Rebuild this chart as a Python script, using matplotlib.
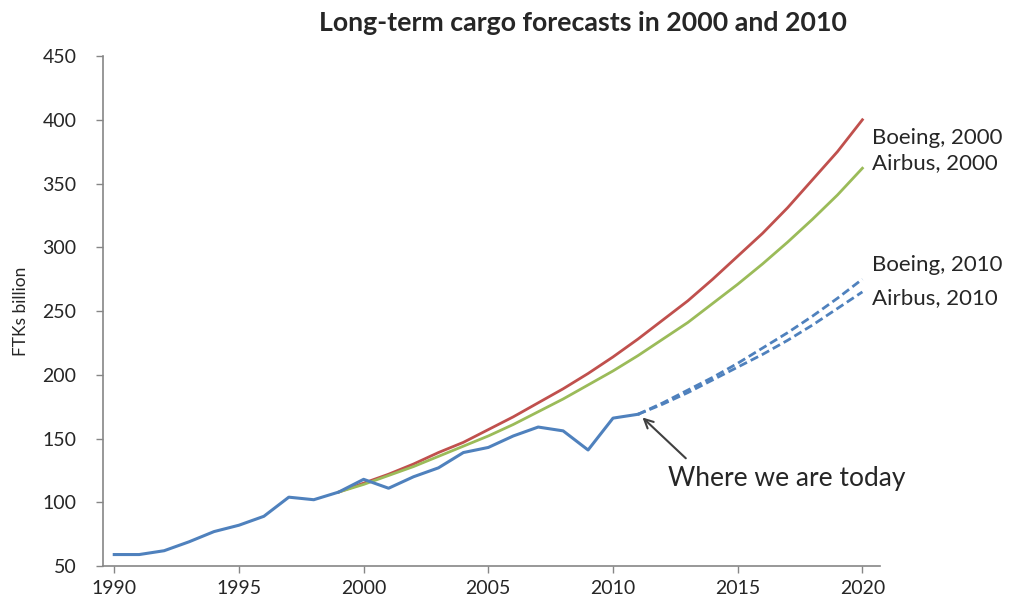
import matplotlib
matplotlib.use("Agg")
import matplotlib.pyplot as plt

# actual traffic, FTKs billion
years_actual = list(range(1990, 2012))
actual = [59, 59, 62, 69, 77, 82, 89, 104, 102, 108, 118, 111, 120, 127,
          139, 143, 152, 159, 156, 141, 166, 169]

# forecasts made in 2000
years_2000 = list(range(1999, 2021))
boeing_2000 = [108, 115, 122, 130, 139, 147, 157, 167, 178, 189, 201, 214,
               228, 243, 258, 275, 293, 311, 331, 353, 375, 400]
airbus_2000 = [108, 114, 121, 128, 136, 144, 152, 161, 171, 181, 192, 203,
               215, 228, 241, 256, 271, 287, 304, 322, 341, 362]

# forecasts made in 2010
years_2010 = list(range(2011, 2021))
boeing_2010 = [169, 178, 188, 198, 209, 221, 233, 246, 260, 275]
airbus_2010 = [169, 177, 186, 196, 206, 216, 227, 239, 252, 265]

x_ticks = [1990, 1995, 2000, 2005, 2010, 2015, 2020]
y_ticks = [50, 100, 150, 200, 250, 300, 350, 400, 450]

blue = "#4F81BD"
red = "#C0504D"
green = "#9BBB59"
axis_grey = "#868686"
text_col = "#262626"

plt.rcParams["font.family"] = ["Lato", "DejaVu Sans"]

fig = plt.figure(figsize=(10.16, 6.01), dpi=100)
ax = fig.add_axes([0.1014, 0.0582, 0.7646, 0.8486])

ax.plot(years_2000, boeing_2000, color=red, lw=2.0)
ax.plot(years_2000, airbus_2000, color=green, lw=2.0)
ax.plot(years_2010, boeing_2010, color=blue, lw=2.0, ls=(0, (3, 1.5)))
ax.plot(years_2010, airbus_2010, color=blue, lw=2.0, ls=(0, (3, 1.5)))
ax.plot(years_actual, actual, color=blue, lw=2.2)

ax.set_xlim(1989.55, 2020.7)
ax.set_ylim(50, 450)
ax.set_xticks(x_ticks)
ax.set_yticks(y_ticks)
ax.tick_params(axis="both", colors=axis_grey, labelcolor=text_col,
               labelsize=14, length=5, width=1)
ax.tick_params(axis="x", pad=5)
ax.tick_params(axis="y", pad=14)

for side in ["top", "right"]:
    ax.spines[side].set_visible(False)
for side in ["left", "bottom"]:
    ax.spines[side].set_color(axis_grey)
    ax.spines[side].set_linewidth(1.2)

ax.set_ylabel("FTKs billion", fontsize=12.5, color=text_col, labelpad=10)

fig.text(0.574, 0.962, "Long-term cargo forecasts in 2000 and 2010",
         ha="center", va="center", fontsize=19.3, fontweight="bold",
         color=text_col)

# series labels at the right end
lab_kw = dict(fontsize=16, color=text_col, va="center", ha="left",
              clip_on=False)
ax.text(2020.4, 386, "Boeing, 2000", **lab_kw)
ax.text(2020.4, 366, "Airbus, 2000", **lab_kw)
ax.text(2020.4, 286, "Boeing, 2010", **lab_kw)
ax.text(2020.4, 260, "Airbus, 2010", **lab_kw)

# pointer to the latest actual value
ax.annotate("", xy=(2011.1, 168), xytext=(2013.0, 133),
            arrowprops=dict(arrowstyle="->", color="#404040", lw=1.5,
                            mutation_scale=16))
ax.text(2012.2, 119, "Where we are today", fontsize=19, color=text_col,
        va="center", ha="left")

fig.savefig("out.png", dpi=100)
